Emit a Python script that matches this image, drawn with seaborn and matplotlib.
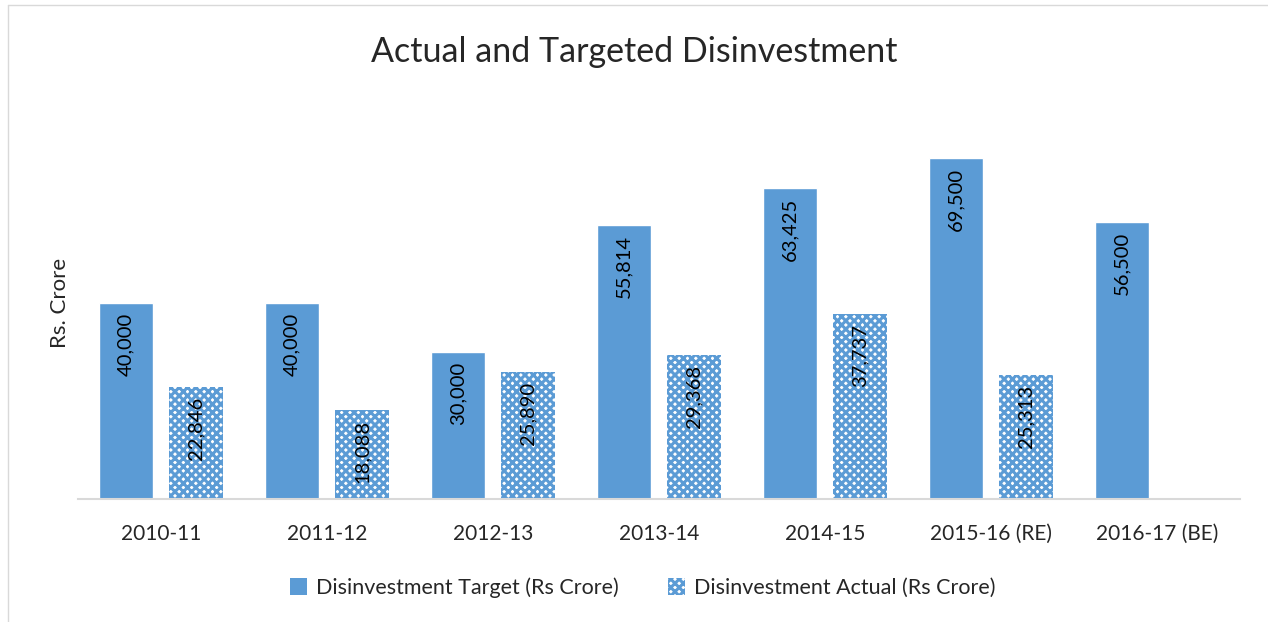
import pandas as pd
import matplotlib.pyplot as plt
import seaborn as sns
from matplotlib.patches import Patch

# data
years = ['2010-11', '2011-12', '2012-13', '2013-14', '2014-15', '2015-16 (RE)', '2016-17 (BE)']
target = [40000, 40000, 30000, 55814, 63425, 69500, 56500]
actual = [22846, 18088, 25890, 29368, 37737, 25313, None]
series = ['Disinvestment Target (Rs Crore)', 'Disinvestment Actual (Rs Crore)']

df = pd.DataFrame({'Year': years * 2,
                   'Series': [series[0]] * 7 + [series[1]] * 7,
                   'Value': target + actual})

sns.set_style('white')
plt.rcParams['font.family'] = ['Lato', 'DejaVu Sans']
plt.rcParams['hatch.linewidth'] = 2.2

blue = '#5B9BD5'
fig = plt.figure(figsize=(12.68, 6.22), dpi=100)
ax = fig.add_axes([78 / 1268, 0.198, 1162 / 1268, 0.63])

sns.barplot(data=df, x='Year', y='Value', hue='Series', hue_order=series,
            palette=[blue, blue], width=0.843, gap=0.228, dodge=True,
            saturation=1, ax=ax, legend=False)

# hatch for actual bars
for p in ax.containers[1]:
    p.set_facecolor('white')
    p.set_edgecolor(blue)
    p.set_hatch('xxxx')
    p.set_linewidth(0)

# value labels inside bar tops
for cont, vals in zip(ax.containers, [target, actual]):
    for p, v in zip(cont, vals):
        if v is None or pd.isna(v):
            continue
        ax.text(p.get_x() + p.get_width() / 2, p.get_height() - 2000, f'{v:,.0f}',
                rotation=90, ha='center', va='top', fontsize=14.5, color='black')

ax.set_ylim(0, 80000)
ax.set_xlim(-0.5, 6.5)
ax.set_yticks([])
ax.set_xlabel('')
ax.set_ylabel('Rs. Crore', fontsize=16, labelpad=6)
ax.tick_params(axis='x', labelsize=15, length=0, pad=18)
for s in ['top', 'right', 'left']:
    ax.spines[s].set_visible(False)
ax.spines['bottom'].set_color('#D9D9D9')
ax.spines['bottom'].set_linewidth(1.5)

fig.suptitle('Actual and Targeted Disinvestment', fontsize=24.5, y=0.942)

# legend
handles = [Patch(facecolor=blue, edgecolor='none'),
           Patch(facecolor='white', edgecolor=blue, hatch='xxxx', linewidth=0)]
fig.legend(handles, series, loc='center', bbox_to_anchor=(0.507, 0.055), ncol=2,
           frameon=False, fontsize=15.5, handlelength=0.8, handleheight=0.8,
           columnspacing=2.3, handletextpad=0.4)

# outer chart border
fig.add_artist(plt.Line2D([8 / 1268, 8 / 1268], [0, 1 - 5 / 622], color='#D9D9D9', lw=1))
fig.add_artist(plt.Line2D([8 / 1268, 1], [1 - 5 / 622, 1 - 5 / 622], color='#D9D9D9', lw=1))

fig.savefig('out.png', dpi=100)
